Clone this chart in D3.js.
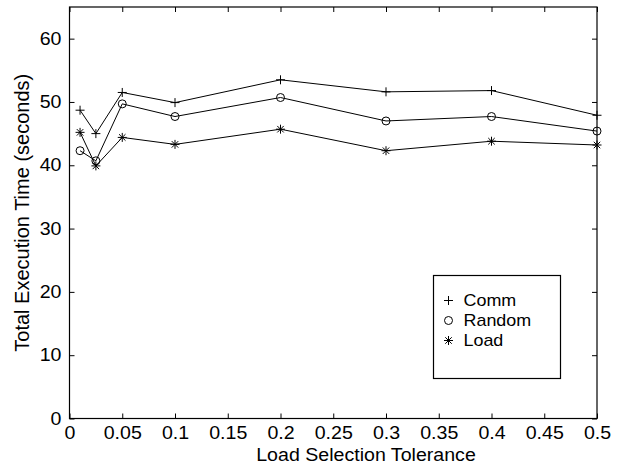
<!DOCTYPE html>
<html>
<head>
<meta charset="utf-8">
<script src="https://cdn.jsdelivr.net/npm/d3@7"></script>
<style>
  body { margin: 0; background: #fff; }
  text { font-family: "Liberation Sans", Arial, sans-serif; fill: #000; }
</style>
</head>
<body>
<div id="chart"></div>
<script>
// data
var tolerance = [0.01, 0.025, 0.05, 0.1, 0.2, 0.3, 0.4, 0.5];
var commTimes = [48.7, 45.0, 51.5, 49.9, 53.5, 51.6, 51.8, 47.9];
var randomTimes = [42.3, 40.7, 49.7, 47.7, 50.7, 47.0, 47.7, 45.4];
var loadTimes = [45.2, 39.9, 44.4, 43.3, 45.7, 42.3, 43.8, 43.2];
var seriesNames = ["Comm", "Random", "Load"];
var xTicks = [0, 0.05, 0.1, 0.15, 0.2, 0.25, 0.3, 0.35, 0.4, 0.45, 0.5];
var yTicks = [0, 10, 20, 30, 40, 50, 60];

var svgWidth = 627;
var svgHeight = 465;

var margin = {
    top: 7,
    bottom: 46.5,
    right: 30,
    left: 69.5
};

var width = svgWidth - margin.left - margin.right;
var height = svgHeight - margin.top - margin.bottom;

var svg = d3.select("#chart")
    .append("svg")
    .attr("width", svgWidth)
    .attr("height", svgHeight);

var plot = svg.append("g")
    .attr("transform", `translate(${margin.left}, ${margin.top})`);

var x = d3.scaleLinear().domain([0, 0.5]).range([0, width]);
var y = d3.scaleLinear().domain([0, 65]).range([height, 0]);

// the original text looks a bit wide, so stretch it sideways
var fontSize = 17.5;
var stretch = 1.12;
var tickLen = 5;

// box
plot.append("rect")
    .attr("width", width)
    .attr("height", height)
    .attr("fill", "none")
    .attr("stroke", "#000")
    .attr("stroke-width", 1.2);

// inward ticks on all sides (matlab style)
var xAxis = d3.axisBottom(x).tickValues(xTicks).tickSizeInner(-tickLen).tickSizeOuter(0)
    .tickPadding(tickLen + 3).tickFormat(d => d3.format("")(d));
var yAxis = d3.axisLeft(y).tickValues(yTicks).tickSizeInner(-tickLen).tickSizeOuter(0)
    .tickPadding(tickLen + 3);

var gx = plot.append("g")
    .attr("transform", `translate(0, ${height})`)
    .call(xAxis);
var gy = plot.append("g").call(yAxis);
var gxTop = plot.append("g").call(d3.axisTop(x).tickValues(xTicks).tickSizeInner(-tickLen).tickSizeOuter(0).tickFormat(""));
var gyRight = plot.append("g")
    .attr("transform", `translate(${width}, 0)`)
    .call(d3.axisRight(y).tickValues(yTicks).tickSizeInner(-tickLen).tickSizeOuter(0).tickFormat(""));

[gx, gy, gxTop, gyRight].forEach(g => {
    g.select(".domain").remove();
    g.selectAll("line").attr("stroke", "#000");
    g.selectAll("text")
        .style("font-family", "'Liberation Sans', Arial, sans-serif")
        .style("font-size", fontSize + "px")
        .attr("fill", "#000");
});
gx.selectAll(".tick text").attr("transform", `scale(${stretch},1)`);
gy.selectAll(".tick text").each(function () {
    var t = d3.select(this);
    var tx = +t.attr("x");
    t.attr("transform", `translate(${tx},0) scale(${stretch},1)`).attr("x", 0);
});

// lines + markers
var series = [
    { name: seriesNames[0], values: commTimes, marker: "plus" },
    { name: seriesNames[1], values: randomTimes, marker: "circle" },
    { name: seriesNames[2], values: loadTimes, marker: "star" }
];

var line = d3.line()
    .x((d, i) => x(tolerance[i]))
    .y(d => y(d));

function drawMarker(g, type, cx, cy) {
    var s = 4.5;
    if (type === "plus") {
        g.append("path")
            .attr("d", `M${cx - s},${cy}H${cx + s}M${cx},${cy - s}V${cy + s}`)
            .attr("stroke", "#000").attr("fill", "none");
    } else if (type === "circle") {
        g.append("circle")
            .attr("cx", cx).attr("cy", cy).attr("r", 4)
            .attr("stroke", "#000").attr("fill", "none");
    } else {
        var d = s * 0.72;
        g.append("path")
            .attr("d", `M${cx - s},${cy}H${cx + s}M${cx},${cy - s}V${cy + s}` +
                `M${cx - d},${cy - d}L${cx + d},${cy + d}M${cx - d},${cy + d}L${cx + d},${cy - d}`)
            .attr("stroke", "#000").attr("fill", "none");
    }
}

series.forEach(s => {
    plot.append("path")
        .datum(s.values)
        .attr("d", line)
        .attr("fill", "none")
        .attr("stroke", "#000")
        .attr("stroke-width", 1);
    var mg = plot.append("g");
    s.values.forEach((v, i) => drawMarker(mg, s.marker, x(tolerance[i]), y(v)));
});

// legend
var legend = svg.append("g").attr("transform", "translate(433.5, 275.5)");
legend.append("rect")
    .attr("width", 127)
    .attr("height", 103)
    .attr("fill", "#fff")
    .attr("stroke", "#000")
    .attr("stroke-width", 1.2);

series.forEach((s, i) => {
    var ly = 25 + i * 20;
    drawMarker(legend, s.marker, 15, ly);
    legend.append("text")
        .attr("transform", `translate(30,${ly}) scale(${stretch},1)`)
        .attr("dy", "0.35em")
        .style("font-size", "16px")
        .text(s.name);
});

// axis titles
svg.append("text")
    .attr("transform", `translate(366, 461) scale(${stretch},1)`)
    .style("text-anchor", "middle")
    .style("font-size", fontSize + "px")
    .text("Load Selection Tolerance");

svg.append("text")
    .attr("transform", `translate(29, ${margin.top + height / 2}) rotate(-90)`)
    .style("text-anchor", "middle")
    .style("font-size", "20px")
    .text("Total Execution Time (seconds)");
</script>
</body>
</html>
